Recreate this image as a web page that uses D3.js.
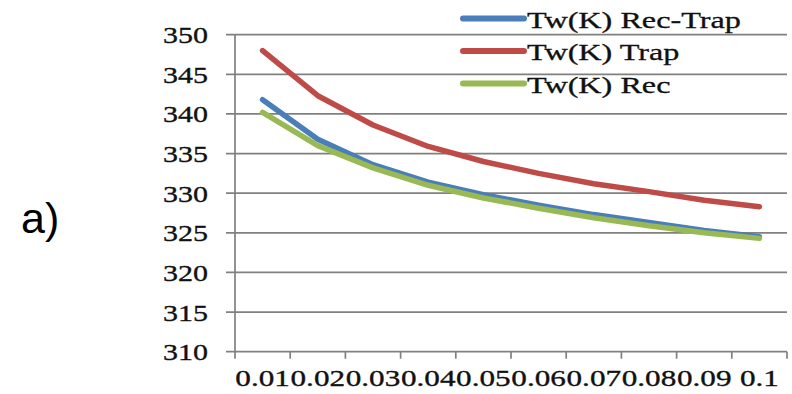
<!DOCTYPE html>
<html>
<head>
<meta charset="utf-8">
<script src="https://cdn.jsdelivr.net/npm/d3@7"></script>
<style>
  body { margin: 0; background: #fff; }
  svg { display: block; }
</style>
</head>
<body>
<div id="chart"></div>
<script>
var categories = ["0.01", "0.02", "0.03", "0.04", "0.05", "0.06", "0.07", "0.08", "0.09", "0.1"];
var recTrap = [341.8, 336.8, 333.6, 331.4, 329.8, 328.5, 327.3, 326.3, 325.3, 324.5];
var trap    = [348.0, 342.3, 338.6, 335.9, 334.0, 332.5, 331.2, 330.2, 329.1, 328.3];
var rec     = [340.2, 336.0, 333.2, 331.0, 329.4, 328.1, 326.9, 325.9, 325.0, 324.3];
var yTicks = [310, 315, 320, 325, 330, 335, 340, 345, 350];
var seriesNames = ["Tw(K) Rec-Trap", "Tw(K) Trap", "Tw(K) Rec"];

(function(){
    var width = 792, height = 394;
    var plotLeft = 235, plotRight = 787, plotTop = 34.7, plotBottom = 351.7;
    var serif = "'Liberation Serif', 'Times New Roman', serif";

    var svg = d3.select("#chart").append("svg")
        .attr("width", width)
        .attr("height", height);

    var xScale = d3.scaleBand().domain(categories).range([plotLeft, plotRight]).padding(0),
        yScale = d3.scaleLinear().domain([310, 350]).range([plotBottom, plotTop]);

    // gridlines (with the small outward tick on the left)
    svg.append("g").selectAll("line")
        .data(yTicks)
        .enter().append("line")
        .attr("x1", plotLeft - 9)
        .attr("x2", plotRight)
        .attr("y1", d => yScale(d))
        .attr("y2", d => yScale(d))
        .attr("stroke", "#808080")
        .attr("stroke-width", 1.7);

    // y axis line
    svg.append("line")
        .attr("x1", plotLeft).attr("x2", plotLeft)
        .attr("y1", plotTop).attr("y2", plotBottom)
        .attr("stroke", "#808080")
        .attr("stroke-width", 1.7);

    // x tick marks at band edges
    var edges = categories.map(d => xScale(d)).concat([plotRight]);
    svg.append("g").selectAll("line")
        .data(edges)
        .enter().append("line")
        .attr("x1", d => d).attr("x2", d => d)
        .attr("y1", plotBottom).attr("y2", plotBottom + 7)
        .attr("stroke", "#808080")
        .attr("stroke-width", 1.7);

    // y tick labels, stretched sideways like the source
    svg.append("g").selectAll("text")
        .data(yTicks)
        .enter().append("text")
        .attr("transform", d => "translate(208," + (yScale(d) + 8.5) + ") scale(1.25,1)")
        .attr("text-anchor", "end")
        .attr("font-family", serif)
        .attr("font-size", "24px")
        .attr("fill", "#111")
        .attr("stroke", "#111")
        .attr("stroke-width", 0.35)
        .text(d => d);

    // x tick labels
    svg.append("g").selectAll("text")
        .data(categories)
        .enter().append("text")
        .attr("transform", d => "translate(" + (xScale(d) + xScale.bandwidth() / 2) + ",386) scale(1.3,1)")
        .attr("text-anchor", "middle")
        .attr("font-family", serif)
        .attr("font-size", "24px")
        .attr("fill", "#111")
        .attr("stroke", "#111")
        .attr("stroke-width", 0.35)
        .text(d => d);

    var series = [
        {name: seriesNames[0], values: recTrap, color: "#4a7ebb"},
        {name: seriesNames[1], values: trap, color: "#be4b48"},
        {name: seriesNames[2], values: rec, color: "#98b954"}
    ];

    var line = d3.line()
        .x((d, i) => xScale(categories[i]) + xScale.bandwidth() / 2)
        .y(d => yScale(d));

    svg.append("g").selectAll("path")
        .data(series)
        .enter().append("path")
        .attr("d", d => line(d.values))
        .attr("fill", "none")
        .attr("stroke", d => d.color)
        .attr("stroke-width", 5.5)
        .attr("stroke-linecap", "round")
        .attr("stroke-linejoin", "round");

    // legend
    var legend = svg.append("g").selectAll("g")
        .data(series)
        .enter().append("g")
        .attr("transform", (d, i) => "translate(0," + (18.5 + i * 32.5) + ")");

    legend.append("line")
        .attr("x1", 463).attr("x2", 524)
        .attr("y1", 0).attr("y2", 0)
        .attr("stroke", d => d.color)
        .attr("stroke-width", 6)
        .attr("stroke-linecap", "round");

    legend.append("text")
        .attr("transform", "translate(527,9) scale(1.4,1)")
        .attr("font-family", serif)
        .attr("font-size", "23px")
        .attr("fill", "#111")
        .attr("stroke", "#111")
        .attr("stroke-width", 0.3)
        .text(d => d.name);

    // panel label
    svg.append("text")
        .attr("x", 21)
        .attr("y", 233)
        .attr("font-family", "'Liberation Sans', Arial, sans-serif")
        .attr("font-size", "43px")
        .attr("fill", "#000")
        .text("a)");
})();
</script>
</body>
</html>
